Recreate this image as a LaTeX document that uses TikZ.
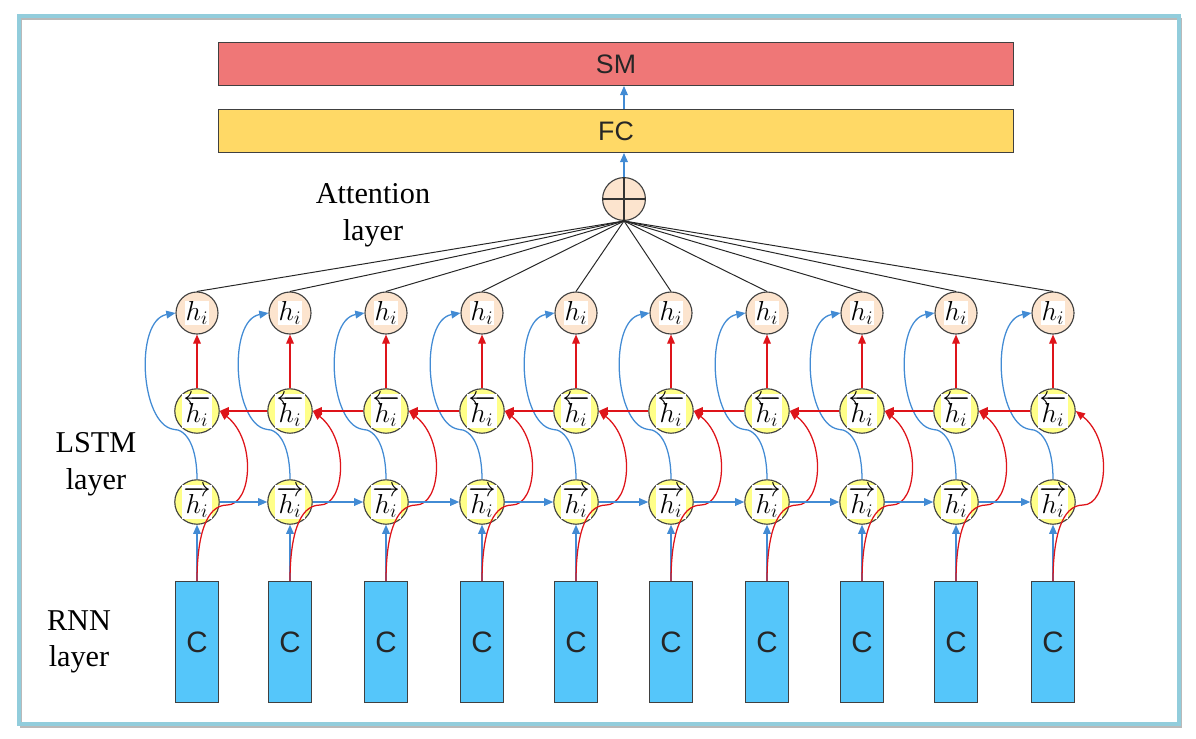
\RequirePackage{fix-cm}
\documentclass[tikz,border=0pt]{standalone}
\usepackage{fontspec}
\setmainfont{Liberation Serif}
\setsansfont{Liberation Sans}
\usetikzlibrary{arrows.meta}

\definecolor{smred}{RGB}{239,119,119}
\definecolor{fcyellow}{RGB}{255,217,102}
\definecolor{peach}{RGB}{252,228,206}
\definecolor{cellyellow}{RGB}{255,255,136}
\definecolor{rnnblue}{RGB}{85,198,250}
\definecolor{lineblue}{RGB}{66,139,212}
\definecolor{linered}{RGB}{222,20,26}
\definecolor{frameblue}{RGB}{146,205,220}

\newcommand{\cellbox}[1]{{\setlength{\fboxsep}{0.6pt}\colorbox{white}{$#1$}}}

\tikzset{
  layerbox/.style={draw=black!75,line width=0.8pt,minimum width=19.85cm,minimum height=1.07cm,text=black!85,font=\sffamily\fontsize{19}{19}\selectfont},
  cell/.style={circle,draw=black!75,line width=0.8pt,minimum size=1.05cm,inner sep=0pt,font=\fontsize{19.5}{19.5}\selectfont},
  rnncell/.style={draw=black!75,fill=rnnblue,line width=0.8pt,minimum width=1.07cm,minimum height=3.02cm,text=black!85,font=\sffamily\fontsize{21}{21}\selectfont},
  bluearrow/.style={lineblue,line width=0.9pt,-{Triangle[length=6.5pt,width=5.5pt]}},
  redarrow/.style={linered,line width=0.9pt,-{Triangle[length=6.5pt,width=5.5pt]}},
  layerlabel/.style={align=center,font=\fontsize{21.5}{26}\selectfont}
}

\begin{document}
\begin{tikzpicture}[x=0.025cm,y=0.025cm]
        \useasboundingbox (0,0) rectangle (1196,-738);
        \draw[gray!55,line width=2pt] (21,-19) rectangle (1181,-727);
        \draw[frameblue,line width=3pt] (19,-16) rectangle (1179,-724);

        \node[layerbox,fill=smred] (sm) at (616,-64) {SM};
        \node[layerbox,fill=fcyellow] (fc) at (616,-131) {FC};
        \node[cell,fill=peach,minimum size=1.07cm] (sum) at (624,-199) {};
        \draw[black!80,line width=0.8pt] (sum.north) -- (sum.south) (sum.west) -- (sum.east);
        \draw[bluearrow] (sum.north) -- (sum.north |- fc.south);
        \draw[bluearrow] (fc.north -| sum.north) -- (sm.south -| sum.north);

        \node[layerlabel] (attlabel) at (373,-215) {Attention\\layer};
        \node[layerlabel] (lstmlabel) at (96,-464) {LSTM\\layer};
        \node[layerlabel] (rnnlabel) at (79,-642) {RNN\\layer};

        \foreach \x [count=\i] in {197,290,386,482,576,671,767,862,956,1053} {
          \node[rnncell] (c\i) at (\x,-642) {C};
          \node[cell,fill=cellyellow] (f\i) at (\x,-502) {\cellbox{\overrightarrow{h_i}}};
          \node[cell,fill=cellyellow] (b\i) at (\x,-411) {\cellbox{\overleftarrow{h_i}}};
          \node[cell,fill=peach] (h\i) at (\x,-313) {\cellbox{h_i}};

          \draw[bluearrow] (c\i.north) -- (f\i.south);
          \draw[redarrow] (c\i.north) .. controls +(0,42) and +(-22,0) .. ++(30,76) .. controls +(25,0) and +(37,-29) .. (b\i.east);
          \draw[bluearrow] (f\i.north) .. controls +(0,30) and +(15,0) .. ++(-24,50) .. controls +(-33,6) and +(-41,-7) .. (h\i.west);
          \draw[redarrow] (b\i.north) -- (h\i.south);
          \draw[black!85,line width=0.7pt] (h\i.north) -- (sum.south);
        }
        \foreach \i [evaluate=\i as \j using int(\i+1)] in {1,...,9} {
          \draw[bluearrow] (f\i.east) -- (f\j.west);
          \draw[redarrow] (b\j.west) -- (b\i.east);
        }
      \end{tikzpicture}
\end{document}
